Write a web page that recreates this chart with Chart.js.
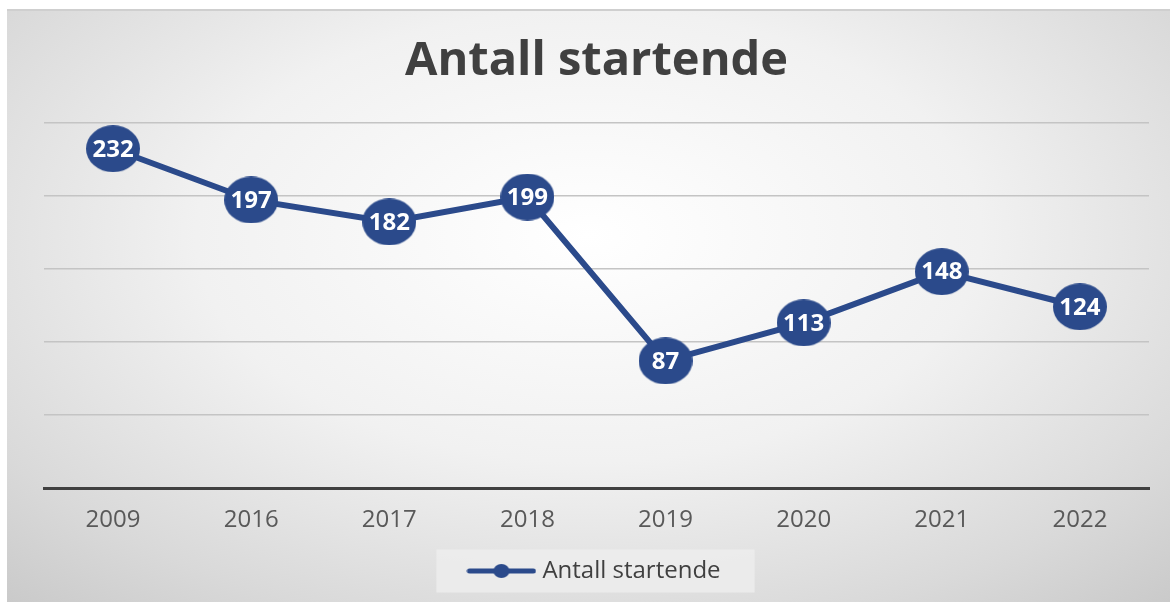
<!DOCTYPE html>
<html>
<head>
<meta charset="utf-8">
<script src="https://cdn.jsdelivr.net/npm/chart.js@4.4.1/dist/chart.umd.min.js"></script>
<style>
  html, body { margin: 0; padding: 0; background: #fff; }
  #wrap {
    position: absolute; left: 7px; top: 9px; width: 1163px; height: 593px;
    background: radial-gradient(ellipse 75% 85% at 50% 38%, #ffffff 0%, #f1f1f1 45%, #d9d9d9 80%, #c9c9c9 100%);
    border-top: 2px solid #cfcfcf;
    box-sizing: border-box;
  }
  canvas { display: block; }
</style>
</head>
<body>
<div id="wrap"><canvas id="chart" width="1163" height="591"></canvas></div>
<script>
// data
const years = ['2009', '2016', '2017', '2018', '2019', '2020', '2021', '2022'];
const starters = [232, 197, 182, 199, 87, 113, 148, 124];
const yTicks = [0, 50, 100, 150, 200, 250];

const navy = '#2b4a8b';
const font = '"Open Sans", "Liberation Sans", sans-serif';

// elliptical marker used for points
function makeMarker(w, h) {
  const c = document.createElement('canvas');
  c.width = w; c.height = h;
  const ctx = c.getContext('2d');
  ctx.fillStyle = navy;
  ctx.beginPath();
  ctx.ellipse(w / 2, h / 2, w / 2, h / 2, 0, 0, Math.PI * 2);
  ctx.fill();
  return c;
}

// line + dot swatch for the legend
function makeSwatch() {
  const c = document.createElement('canvas');
  c.width = 70; c.height = 16;
  const ctx = c.getContext('2d');
  ctx.strokeStyle = navy;
  ctx.lineWidth = 5;
  ctx.lineCap = 'round';
  ctx.beginPath();
  ctx.moveTo(3, 8); ctx.lineTo(67, 8);
  ctx.stroke();
  ctx.fillStyle = navy;
  ctx.beginPath();
  ctx.ellipse(35, 8, 8, 7, 0, 0, Math.PI * 2);
  ctx.fill();
  return c;
}

const marker = makeMarker(54, 47);
const swatch = makeSwatch();

const valueLabels = {
  id: 'valueLabels',
  afterDatasetsDraw(chart) {
    const ctx = chart.ctx;
    const meta = chart.getDatasetMeta(0);
    ctx.save();
    ctx.font = 'bold 24px ' + font;
    ctx.fillStyle = '#ffffff';
    ctx.textAlign = 'center';
    ctx.textBaseline = 'middle';
    meta.data.forEach((pt, i) => {
      ctx.fillText(String(chart.data.datasets[0].data[i]), pt.x, pt.y + 1);
    });
    ctx.restore();
  }
};

const legendBox = {
  id: 'legendBox',
  beforeDraw(chart) {
    const lg = chart.legend;
    if (!lg || !lg.legendHitBoxes.length) return;
    const hb = lg.legendHitBoxes[0];
    const ctx = chart.ctx;
    ctx.save();
    ctx.fillStyle = 'rgba(236,236,236,0.9)';
    ctx.fillRect(hb.left - 36, hb.top + hb.height / 2 - 21.5, hb.width + 70, 43);
    ctx.restore();
  }
};

new Chart(document.getElementById('chart'), {
  type: 'line',
  data: {
    labels: years,
    datasets: [{
      label: 'Antall startende',
      data: starters,
      borderColor: navy,
      backgroundColor: navy,
      borderWidth: 6,
      tension: 0,
      pointStyle: marker,
      pointRadius: 24,
      pointHoverRadius: 24
    }]
  },
  options: {
    responsive: false,
    animation: false,
    layout: { autoPadding: false, padding: { left: 37, right: 21, top: 0, bottom: 9 } },
    plugins: {
      title: {
        display: true,
        text: 'Antall startende',
        color: '#404040',
        font: { family: font, size: 47, weight: 'bold' },
        padding: { top: 22, bottom: 33 }
      },
      legend: {
        position: 'bottom',
        labels: {
          usePointStyle: true,
          pointStyle: swatch,
          pointStyleWidth: 58,
          color: '#404040',
          font: { family: font, size: 24 },
          padding: 14,
          generateLabels: (chart) => [{
            text: chart.data.datasets[0].label,
            pointStyle: swatch,
            fontColor: '#404040',
            datasetIndex: 0
          }]
        }
      },
      tooltip: { enabled: false }
    },
    scales: {
      x: {
        offset: true,
        grid: { display: false },
        border: { color: '#404040', width: 3 },
        ticks: { color: '#595959', font: { family: font, size: 24 }, padding: 10 }
      },
      y: {
        min: 0,
        max: 250,
        afterBuildTicks: (axis) => { axis.ticks = yTicks.map(v => ({ value: v })); },
        ticks: { display: false },
        border: { display: false },
        grid: {
          color: (c) => c.tick && c.tick.value === 0 ? 'rgba(0,0,0,0)' : '#c4c4c4',
          lineWidth: 1.5,
          drawTicks: false
        }
      }
    }
  },
  plugins: [legendBox, valueLabels]
});
</script>
</body>
</html>
